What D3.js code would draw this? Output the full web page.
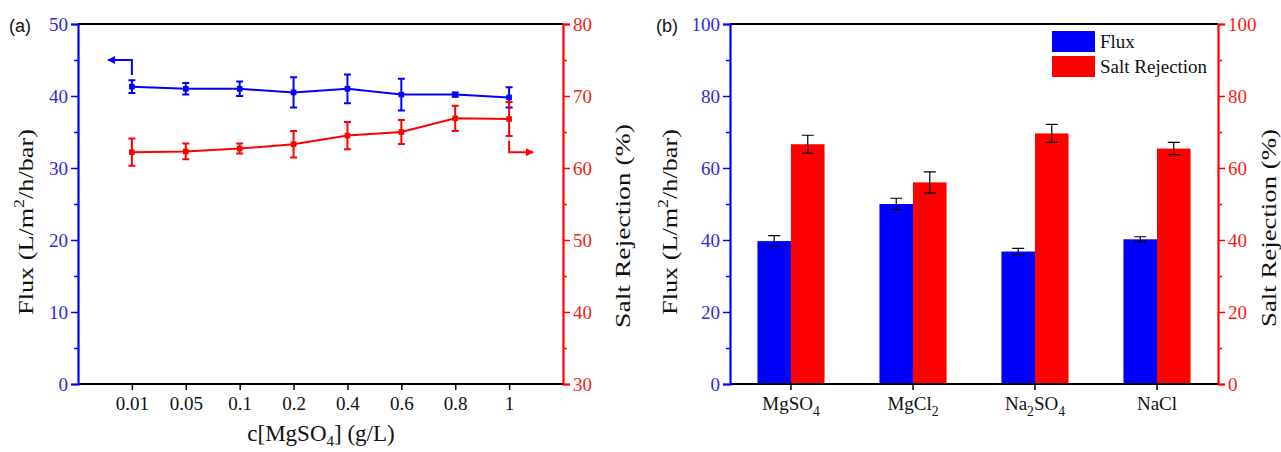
<!DOCTYPE html>
<html>
<head>
<meta charset="utf-8">
<script src="https://cdn.jsdelivr.net/npm/d3@7"></script>
<style>
  body { margin: 0; background: #fff; }
  svg { display: block; }
  text { font-family: "Liberation Serif", "Times New Roman", serif; }
</style>
</head>
<body>
<div id="chart"></div>
<script>
// panel (a): concentration series
const concLabels = ['0.01', '0.05', '0.1', '0.2', '0.4', '0.6', '0.8', '1'];
const fluxA = [41.3, 41.0, 41.0, 40.5, 41.0, 40.2, 40.2, 39.8];
const fluxAErr = [0.9, 0.8, 1.0, 2.1, 2.0, 2.2, 0.3, 1.4];
const rejA = [62.2, 62.3, 62.7, 63.3, 64.5, 65.0, 66.9, 66.8];
const rejAErr = [1.9, 1.1, 0.7, 1.85, 1.9, 1.65, 1.75, 2.35];

// panel (b): salts
const salts = ['MgSO4', 'MgCl2', 'Na2SO4', 'NaCl'];
const fluxB = [39.7, 50.0, 36.8, 40.2];
const fluxBErr = [1.5, 1.6, 0.9, 0.7];
const rejB = [66.6, 56.0, 69.6, 65.4];
const rejBErr = [2.5, 2.9, 2.5, 1.7];

const fluxTicksA = [0, 10, 20, 30, 40, 50];
const rejTicksA = [30, 40, 50, 60, 70, 80];
const ticksB = [0, 20, 40, 60, 80, 100];

const BLUE = '#0000ff', RED = '#ff0000';
const BLUE_TXT = '#2b2bdc', RED_TXT = '#f21c1c';

const svg = d3.select('#chart').append('svg')
	.attr('width', 1281)
	.attr('height', 452);

const yTop = 24, yBot = 384;

// helper: y axis with major + minor ticks
function yAxis(g, scale, major, side, color, txtColor) {
	const step = major[1] - major[0];
	const minor = major.slice(0, -1).map(v => v + step / 2);
	const mk = side === 'left' ? d3.axisLeft : d3.axisRight;
	g.append('g').call(mk(scale).tickValues(minor).tickFormat('').tickSize(4))
		.call(s => s.select('.domain').remove())
		.call(s => s.selectAll('text').remove())
		.selectAll('line').attr('stroke', color).attr('stroke-width', 1.5);
	const a = g.append('g').call(mk(scale).tickValues(major).tickSize(7).tickPadding(3));
	a.select('.domain').attr('stroke', color).attr('stroke-width', 2.2);
	a.selectAll('line').attr('stroke', color).attr('stroke-width', 1.5);
	a.selectAll('text').attr('fill', txtColor).style('font-size', '19px')
		.style('font-family', '"Liberation Serif", serif');
}

function subLabel(sel, str, size) {
	// digits become subscripts
	sel.text(null);
	let shifted = false;
	str.split(/(\d+)/).filter(s => s.length).forEach(part => {
		if (/^\d+$/.test(part)) {
			sel.append('tspan').attr('dy', size * 0.3).style('font-size', (size * 0.72) + 'px').text(part);
			shifted = true;
		} else {
			const ts = sel.append('tspan').text(part);
			if (shifted) { ts.attr('dy', -size * 0.3); shifted = false; }
		}
	});
}

function rotTitle(parts, x, cy, len) {
	const t = svg.append('text')
		.attr('text-anchor', 'middle')
		.style('font-size', '22px')
		.attr('fill', '#111');
	parts.forEach(p => {
		const ts = t.append('tspan').text(p.t);
		if (p.sup) ts.attr('dy', -9).style('font-size', '15px');
		if (p.back) ts.attr('dy', 9);
	});
	const w = t.node().getComputedTextLength();
	t.attr('transform', `translate(${x},${cy}) rotate(-90) scale(${len / w},1)`);
}

// ---------------- panel (a) ----------------
const A = {l: 78, r: 563};
const xA = d3.scalePoint().domain(concLabels).range([A.l, A.r]).padding(1);
const yFluxA = d3.scaleLinear().domain([0, 50]).range([yBot, yTop]);
const yRejA = d3.scaleLinear().domain([30, 80]).range([yBot, yTop]);

const gA = svg.append('g');
gA.append('line').attr('x1', A.l).attr('x2', A.r).attr('y1', yTop).attr('y2', yTop)
	.attr('stroke', '#000').attr('stroke-width', 2.2);

const xAxA = gA.append('g').attr('transform', `translate(0,${yBot})`)
	.call(d3.axisBottom(xA).tickSize(6).tickPadding(7));
xAxA.select('.domain').attr('stroke', '#000').attr('stroke-width', 2.2).attr('d', `M${A.l},0H${A.r}`);
xAxA.selectAll('line').attr('stroke', '#000').attr('stroke-width', 1.5);
xAxA.selectAll('text').attr('fill', '#111').style('font-size', '19px');

yAxis(gA.append('g').attr('transform', `translate(${A.l},0)`), yFluxA, fluxTicksA, 'left', BLUE, BLUE_TXT);
yAxis(gA.append('g').attr('transform', `translate(${A.r},0)`), yRejA, rejTicksA, 'right', RED, RED_TXT);

function series(vals, errs, scale, color) {
	const g = gA.append('g');
	const line = d3.line().x((d, i) => xA(concLabels[i])).y(d => scale(d));
	g.append('path').attr('d', line(vals)).attr('fill', 'none')
		.attr('stroke', color).attr('stroke-width', 2);
	vals.forEach((v, i) => {
		const x = xA(concLabels[i]);
		const y0 = scale(v - errs[i]), y1 = scale(v + errs[i]);
		g.append('path')
			.attr('d', `M${x},${y0}V${y1}M${x - 3.5},${y0}H${x + 3.5}M${x - 3.5},${y1}H${x + 3.5}`)
			.attr('stroke', color).attr('stroke-width', 2).attr('fill', 'none');
		g.append('rect').attr('x', x - 2.8).attr('y', scale(v) - 2.8)
			.attr('width', 5.6).attr('height', 5.6).attr('fill', color);
	});
}
series(fluxA, fluxAErr, yFluxA, BLUE);
series(rejA, rejAErr, yRejA, RED);

// axis indicator arrows
const defs = svg.append('defs');
[['arB', BLUE], ['arR', RED]].forEach(([id, c]) => {
	defs.append('marker').attr('id', id).attr('viewBox', '0 0 10 10')
		.attr('refX', 9).attr('refY', 5).attr('markerWidth', 5).attr('markerHeight', 4)
		.attr('markerUnits', 'strokeWidth').attr('orient', 'auto')
		.append('path').attr('d', 'M0,0L10,5L0,10z').attr('fill', c);
});
const xFirst = xA(concLabels[0]), xLast = xA(concLabels[concLabels.length - 1]);
gA.append('path')
	.attr('d', `M${xFirst},${yFluxA(41.3 + 1.6)}V${yFluxA(45)}H${xFirst - 24}`)
	.attr('fill', 'none').attr('stroke', BLUE).attr('stroke-width', 2).attr('marker-end', 'url(#arB)');
gA.append('path')
	.attr('d', `M${xLast},${yRejA(63.8)}V${yRejA(62.2)}H${xLast + 24}`)
	.attr('fill', 'none').attr('stroke', RED).attr('stroke-width', 2).attr('marker-end', 'url(#arR)');

svg.append('text').attr('x', 9).attr('y', 32).text('(a)')
	.style('font-family', '"Liberation Sans", Arial, sans-serif').style('font-size', '18px').attr('fill', '#111');

const xtA = svg.append('text').attr('x', 321).attr('y', 441).attr('text-anchor', 'middle')
	.style('font-size', '23px').attr('fill', '#111');
xtA.append('tspan').text('c[MgSO');
xtA.append('tspan').attr('dy', 5).style('font-size', '15px').text('4');
xtA.append('tspan').attr('dy', -5).text('] (g/L)');

const fluxTitle = [{t: 'Flux (L/m'}, {t: '2', sup: true}, {t: '/h/bar)', back: true}];
rotTitle(fluxTitle, 33, 222, 186);
rotTitle([{t: 'Salt Rejection (%)'}], 630, 226, 204);

// ---------------- panel (b) ----------------
const B = {l: 730, r: 1218};
const xB = d3.scaleBand().domain(salts).range([B.l, B.r]).paddingInner(0.45).paddingOuter(0.225);
const sub = d3.scaleBand().domain(['flux', 'rej']).range([0, xB.bandwidth()]);
const yB = d3.scaleLinear().domain([0, 100]).range([yBot, yTop]);

const gB = svg.append('g');

const barData = salts.map((s, i) => [
	{s, k: 'flux', v: fluxB[i], e: fluxBErr[i], c: BLUE},
	{s, k: 'rej', v: rejB[i], e: rejBErr[i], c: RED}
]).flat();

gB.selectAll('rect.bar').data(barData).join('rect')
	.attr('class', 'bar')
	.attr('x', d => xB(d.s) + sub(d.k))
	.attr('width', sub.bandwidth())
	.attr('y', d => yB(d.v))
	.attr('height', d => yBot - yB(d.v))
	.attr('fill', d => d.c);

gB.selectAll('path.err').data(barData).join('path')
	.attr('class', 'err')
	.attr('d', d => {
		const x = xB(d.s) + sub(d.k) + sub.bandwidth() / 2;
		const y0 = yB(d.v - d.e), y1 = yB(d.v + d.e);
		return `M${x},${y0}V${y1}M${x - 6},${y0}H${x + 6}M${x - 6},${y1}H${x + 6}`;
	})
	.attr('stroke', '#000').attr('stroke-width', 1.2).attr('fill', 'none');

gB.append('line').attr('x1', B.l).attr('x2', B.r).attr('y1', yTop).attr('y2', yTop)
	.attr('stroke', '#000').attr('stroke-width', 2.2);

const xAxB = gB.append('g').attr('transform', `translate(0,${yBot})`)
	.call(d3.axisBottom(xB).tickSize(6).tickPadding(7));
xAxB.select('.domain').attr('stroke', '#000').attr('stroke-width', 2.2).attr('d', `M${B.l},0H${B.r}`);
xAxB.selectAll('line').attr('stroke', '#000').attr('stroke-width', 1.5);
xAxB.selectAll('text').attr('fill', '#111').style('font-size', '19px')
	.each(function(d) { subLabel(d3.select(this), d, 19); });

yAxis(gB.append('g').attr('transform', `translate(${B.l},0)`), yB, ticksB, 'left', BLUE, BLUE_TXT);
yAxis(gB.append('g').attr('transform', `translate(${B.r},0)`), yB, ticksB, 'right', RED, RED_TXT);

// legend
const legendItems = [['Flux', BLUE], ['Salt Rejection', RED]];
const lg = svg.append('g').attr('transform', 'translate(1052,31)');
legendItems.forEach(([name, c], i) => {
	lg.append('rect').attr('x', 0).attr('y', i * 25).attr('width', 43).attr('height', 21).attr('fill', c);
	lg.append('text').attr('x', 48).attr('y', i * 25 + 17).text(name)
		.style('font-size', '19px').attr('fill', '#111');
});

svg.append('text').attr('x', 656).attr('y', 32).text('(b)')
	.style('font-family', '"Liberation Sans", Arial, sans-serif').style('font-size', '18px').attr('fill', '#111');

rotTitle(fluxTitle, 677, 222, 186);
rotTitle([{t: 'Salt Rejection (%)'}], 1276, 228, 198);
</script>
</body>
</html>
